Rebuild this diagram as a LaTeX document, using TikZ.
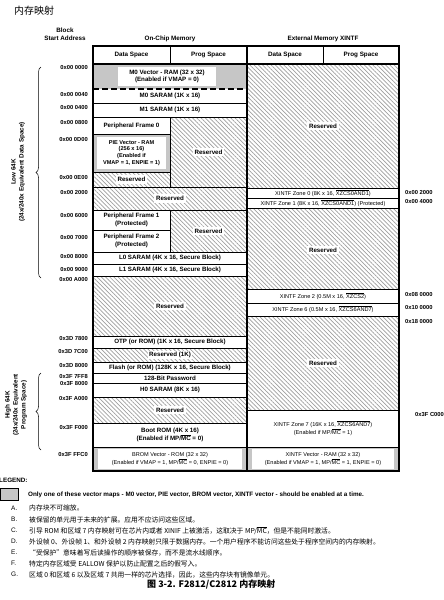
\documentclass[tikz,border=0pt]{standalone}
\usepackage{fontspec}
\setmainfont{Liberation Sans}
\newfontfamily\cjk{Noto Sans CJK SC}
\usetikzlibrary{patterns.meta,decorations.pathreplacing}
\newcommand\ovl[1]{$\overline{\mbox{#1}}$}
\begin{document}
\begin{tikzpicture}[x=1pt,y=-1pt,
  hatch/.style={pattern={Lines[angle=-45,distance=3pt,line width=0.7pt]},pattern color=gray!75},
  vgray/.style={fill=gray!45},
  cell/.style={draw=black,line width=0.7pt},
  lbl/.style={font=\bfseries\fontsize{6.2}{7.4}\selectfont,align=center,inner sep=1pt},
  rlbl/.style={lbl,fill=white,inner sep=2pt},
  sml/.style={font=\fontsize{5.6}{6.6}\selectfont,align=center,inner sep=1pt},
  addr/.style={font=\bfseries\fontsize{5.8}{7}\selectfont,inner sep=0pt},
  hdr/.style={font=\bfseries\fontsize{6.3}{8}\selectfont,align=center,inner sep=0pt},
  note/.style={font=\cjk\fontsize{6.8}{8}\selectfont,anchor=west,inner sep=0pt},
  letter/.style={font=\fontsize{6.5}{8}\selectfont,anchor=west,inner sep=0pt}]
\path[use as bounding box, fill=white] (0,0) rectangle (444,600);
% ---- fills on-chip
\fill[vgray] (93,64) rectangle (247,89);
\fill[hatch] (170,117) rectangle (247,187);
\fill[vgray] (93,134) rectangle (170,172);
\fill[hatch] (93,172) rectangle (170,187);
\fill[hatch] (93,187) rectangle (247,210);
\fill[hatch] (170,210) rectangle (247,252);
\fill[hatch] (93,276) rectangle (247,336);
\fill[hatch] (93,348) rectangle (247,362);
\fill[hatch] (93,397) rectangle (247,423);
\fill[vgray] (93,447) rectangle (247,471);
% ---- fills external
\fill[hatch] (247,64) rectangle (399,188);
\fill[hatch] (247,208) rectangle (399,289);
\fill[hatch] (247,316) rectangle (399,410);
\fill[vgray] (247,447) rectangle (399,471);
% ---- inner white boxes of vector maps
\fill[white] (118,67) rectangle (216,86);
\fill[white] (97,137) rectangle (166,169);
\fill[white] (98,449) rectangle (242,469);
\fill[white] (252,449) rectangle (394,469);
% ---- grid lines on-chip
\draw[line width=1.1pt,dash pattern=on 6pt off 3pt] (93,89) -- (247,89);
\foreach \y in {103,117,187,210,252,264,276,336,348,362,383,397,423,447}
  \draw[cell] (93,\y) -- (247,\y);
\foreach \y in {134,172,230}
  \draw[cell] (93,\y) -- (170,\y);
\draw[line width=0.4pt] (93,373) -- (247,373);
\draw[cell] (170,46) -- (170,64);
\draw[cell] (170,117) -- (170,187);
\draw[cell] (170,210) -- (170,252);
% ---- grid lines external
\foreach \y in {188,198,208,289,303,316,410,447}
  \draw[cell] (247,\y) -- (399,\y);
\draw[cell] (323,46) -- (323,64);
% ---- outer frame
\draw[line width=1.1pt] (93,64) -- (399,64);
\draw[line width=1.1pt] (247,46) -- (247,471);
\draw[line width=1.2pt] (93,46) rectangle (399,471);
% ---- headers
\node[hdr] (bsa) at (65,34) {Block\\Start Address};
\node[hdr] (onchip) at (170,39) {On-Chip Memory};
\node[hdr] (ext) at (323,39) {External Memory XINTF};
\node[hdr] (ds1) at (131.5,55) {Data Space};
\node[hdr] (ps1) at (208.5,55) {Prog Space};
\node[hdr] (ds2) at (285,55) {Data Space};
\node[hdr] (ps2) at (361,55) {Prog Space};
% ---- on-chip labels
\node[lbl] (m0v) at (167,76.5) {M0 Vector - RAM (32 x 32)\\(Enabled if VMAP = 0)};
\node[lbl] (m0) at (170,96) {M0 SARAM (1K x 16)};
\node[lbl] (m1) at (170,110) {M1 SARAM (1K x 16)};
\node[lbl] (pf0) at (131.5,125.5) {Peripheral Frame 0};
\node[lbl,font=\bfseries\fontsize{5.6}{6.8}\selectfont] (pie) at (131.5,153) {PIE Vector - RAM\\(256 x 16)\\(Enabled if\\VMAP = 1, ENPIE = 1)};
\node[rlbl] (rs1) at (131.5,179.5) {Reserved};
\node[rlbl] (rp1) at (208.5,152) {Reserved};
\node[rlbl] (rf) at (170,198.5) {Reserved};
\node[lbl] (pf1) at (131.5,220) {Peripheral Frame 1\\(Protected)};
\node[lbl] (pf2) at (131.5,241) {Peripheral Frame 2\\(Protected)};
\node[rlbl] (rp2) at (208.5,231) {Reserved};
\node[lbl] (l0) at (170,258) {L0 SARAM (4K x 16, Secure Block)};
\node[lbl] (l1) at (170,270) {L1 SARAM (4K x 16, Secure Block)};
\node[rlbl] (r3) at (170,306) {Reserved};
\node[lbl] (otp) at (170,342) {OTP (or ROM) (1K x 16, Secure Block)};
\node[rlbl,inner sep=1pt] (r1k) at (170,355) {Reserved (1K)};
\node[lbl] (fl) at (170,367.5) {Flash (or ROM) (128K x 16, Secure Block)};
\node[lbl] (pw) at (170,378) {128-Bit Password};
\node[lbl] (h0) at (170,390) {H0 SARAM (8K x 16)};
\node[rlbl] (r4) at (170,410) {Reserved};
\node[lbl] (boot) at (170,435) {Boot ROM (4K x 16)\\(Enabled if MP/\ovl{MC} = 0)};
\node[sml] (brom) at (170,459) {BROM Vector - ROM (32 x 32)\\(Enabled if VMAP = 1, MP/\ovl{MC} = 0, ENPIE = 0)};
% ---- external labels
\node[rlbl] (xr1) at (323,126) {Reserved};
\node[sml] (z0) at (323,193) {XINTF Zone 0 (8K x 16, \ovl{XZCS0AND1})};
\node[sml] (z1) at (323,203) {XINTF Zone 1 (8K x 16, \ovl{XZCS0AND1}) (Protected)};
\node[rlbl] (xr2) at (323,250) {Reserved};
\node[sml] (z2) at (323,296) {XINTF Zone 2 (0.5M x 16, \ovl{XZCS2})};
\node[sml] (z6) at (323,309.5) {XINTF Zone 6 (0.5M x 16, \ovl{XZCS6AND7})};
\node[rlbl] (xr3) at (323,363) {Reserved};
\node[sml] (z7) at (323,428.5) {XINTF Zone 7 (16K x 16, \ovl{XZCS6AND7})\\(Enabled if MP/\ovl{MC} = 1)};
\node[sml] (xv) at (323,459) {XINTF Vector - RAM (32 x 32)\\(Enabled if VMAP = 1, MP/\ovl{MC} = 1, ENPIE = 0)};
% ---- left addresses
\foreach \y/\t [count=\i] in {68/0x00 0000,95/0x00 0040,108/0x00 0400,123/0x00 0800,139/0x00 0D00,177/0x00 0E00,192/0x00 2000,215/0x00 6000,237/0x00 7000,256/0x00 8000,269/0x00 9000,279/0x00 A000,339/0x3D 7800,352/0x3D 7C00,366/0x3D 8000,377/0x3F 7FF8,384/0x3F 8000,399/0x3F A000,428/0x3F F000,455/0x3F FFC0}
  \node[addr,anchor=east] (la\i) at (88,\y) {\t};
% ---- right addresses
\foreach \y/\t [count=\i] in {192/0x00 2000,201/0x00 4000,294/0x08 0000,307/0x10 0000,321/0x18 0000}
  \node[addr,anchor=west] (ra\i) at (405,\y) {\t};
\node[addr,anchor=west] (ra6) at (415,415) {0x3F C000};
% ---- braces and side labels
\draw[line width=0.5pt,decorate,decoration={brace,amplitude=5pt}] (41,278) -- (41,67);
\draw[line width=0.5pt,decorate,decoration={brace,amplitude=5pt}] (41,450) -- (41,373);
\node[hdr,rotate=90] (low) at (18,172) {Low 64K\\(24x/240x Equivalent Data Space)};
\node[hdr,rotate=90] (high) at (16,405) {High 64K\\(24x/240x Equivalent\\Program Space)};
% ---- title
\node[font=\cjk\fontsize{10}{12}\selectfont,anchor=west,inner sep=0pt] (title) at (14,11) {内存映射};
% ---- legend
\node[hdr,anchor=west] (leg) at (-1,480) {LEGEND:};
\draw[fill=gray!45,line width=0.6pt] (0,488) rectangle (18,500);
\node[font=\bfseries\fontsize{6.3}{7}\selectfont,anchor=west,inner sep=0pt] (legt) at (28,494.5) {Only one of these vector maps - M0 vector, PIE vector, BROM vector, XINTF vector - should be enabled at a time.};
% ---- notes
\foreach \y/\l/\t [count=\i] in {
  508/A./{内存块不可缩放。},
  519.5/B./{被保留的单元用于未来的扩展。应用不应访问这些区域。},
  530.5/C./{引导 ROM 和区域 7 内存映射可在芯片内或者 XINIF 上被激活，这取决于 MP/\ovl{MC}，但是不能同时激活。},
  541.5/D./{外设帧 0、外设帧 1、和外设帧 2 内存映射只限于数据内存。一个用户程序不能访问这些处于程序空间内的内存映射。},
  552.5/E./{“受保护”意味着写后读操作的顺序被保存，而不是流水线顺序。},
  563.5/F./{特定内存区域受 EALLOW 保护以防止配置之后的假写入。},
  574.5/G./{区域 0 和区域 6 以及区域 7 共用一样的芯片选择，因此，这些内存块有镜像单元。}}
{
  \node[letter] (nl\i) at (11,\y) {\l};
  \node[note] (nt\i) at (29,\y) {\t};
}
% ---- caption
\node[font=\cjk\bfseries\fontsize{9}{10}\selectfont,anchor=west,inner sep=0pt] (cap) at (147,584) {图 3-2. F2812/C2812 内存映射};
\end{tikzpicture}
\end{document}
